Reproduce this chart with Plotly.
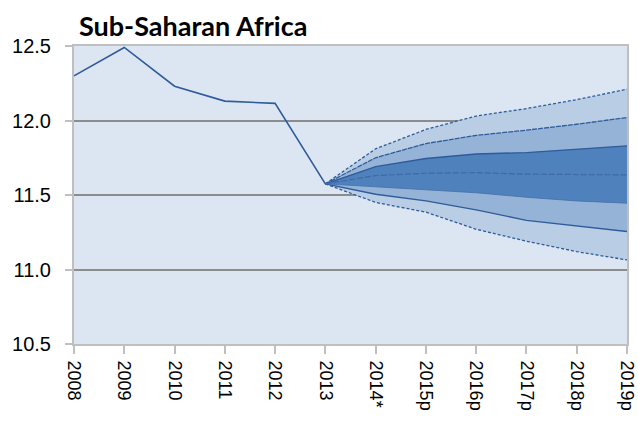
import plotly.graph_objects as go

categories = ["2008", "2009", "2010", "2011", "2012", "2013", "2014*", "2015p", "2016p", "2017p", "2018p", "2019p"]
hist_values = [12.30, 12.49, 12.23, 12.13, 12.115, 11.575]

# fan chart bands, from 2013 onward
fan_x_labels = ["2013", "2014*", "2015p", "2016p", "2017p", "2018p", "2019p"]
outer_upper = [11.575, 11.81, 11.94, 12.03, 12.08, 12.14, 12.21]
mid_upper = [11.575, 11.75, 11.845, 11.90, 11.935, 11.975, 12.02]
inner_upper = [11.575, 11.69, 11.745, 11.775, 11.785, 11.81, 11.83]
median = [11.575, 11.63, 11.646, 11.65, 11.64, 11.635, 11.635]
inner_lower = [11.575, 11.555, 11.54, 11.515, 11.485, 11.46, 11.445]
mid_lower = [11.575, 11.505, 11.46, 11.40, 11.33, 11.29, 11.255]
outer_lower = [11.575, 11.45, 11.385, 11.27, 11.19, 11.12, 11.064]

xi = {c: i for i, c in enumerate(categories)}
hist_x = [xi[c] for c in categories[:len(hist_values)]]
fan_x = [xi[c] for c in fan_x_labels]

LINE = "#2F5B9A"
LIGHT = "#B9CDE5"
MED = "#95B3D7"
DARK = "#4F81BD"
BG = "#DCE6F2"

fig = go.Figure()

def band(lower, upper, fill, lower_dash, upper_dash, lw_lower, lw_upper, lower_color, upper_color):
    fig.add_trace(go.Scatter(x=fan_x, y=lower, mode="lines",
                             line=dict(color=lower_color, width=lw_lower, dash=lower_dash),
                             showlegend=False, hoverinfo="skip"))
    fig.add_trace(go.Scatter(x=fan_x, y=upper, mode="lines", fill="tonexty", fillcolor=fill,
                             line=dict(color=upper_color, width=lw_upper, dash=upper_dash),
                             showlegend=False, hoverinfo="skip"))

band(outer_lower, outer_upper, LIGHT, "3px,2px", "3px,2px", 1.3, 1.3, LINE, LINE)
band(mid_lower, mid_upper, MED, "solid", "5px,1px", 1.3, 1.3, LINE, LINE)
band(inner_lower, inner_upper, DARK, "solid", "solid", 0.8, 1.3, "#456FA8", LINE)

fig.add_trace(go.Scatter(x=fan_x, y=median, mode="lines",
                         line=dict(color="#3E6AA6", width=1.2, dash="6px,2px"),
                         showlegend=False, hoverinfo="skip"))

fig.add_trace(go.Scatter(x=hist_x, y=hist_values, mode="lines",
                         line=dict(color=LINE, width=1.6),
                         showlegend=False, hoverinfo="skip"))

tick_font = dict(family="Liberation Sans, Arial", color="#000000")

fig.update_layout(
    width=638, height=423,
    margin=dict(l=74, r=11, t=46, b=79, autoexpand=False),
    paper_bgcolor="white",
    plot_bgcolor=BG,
    xaxis=dict(
        range=[0, 11],
        tickmode="array",
        tickvals=list(range(len(categories))),
        ticktext=categories,
        tickangle=90,
        tickfont=dict(size=18, **tick_font),
        showgrid=False,
        zeroline=False, automargin=False,
        showline=True, linecolor="#BFBFBF", linewidth=2, mirror=True,
        ticks="outside", ticklen=8, tickcolor="#BFBFBF", tickwidth=2,
        ticklabelstandoff=3,
    ),
    yaxis=dict(
        range=[10.5, 12.5],
        tickvals=[10.5, 11.0, 11.5, 12.0, 12.5],
        ticktext=["10.5", "11.0", "11.5", "12.0", "12.5"],
        tickfont=dict(size=20, **tick_font),
        showgrid=True, gridcolor="#8C8C8C", gridwidth=2,
        zeroline=False, automargin=False,
        showline=True, linecolor="#BFBFBF", linewidth=2, mirror=True,
        ticks="outside", ticklen=7, tickcolor="#BFBFBF", tickwidth=2,
        ticklabelstandoff=10,
    ),
    annotations=[dict(
        text="<b>Sub-Saharan Africa</b>", xref="paper", yref="paper",
        x=0.005, y=1.0 + 21 / 298, xanchor="left", yanchor="middle",
        showarrow=False, font=dict(family="Lato, Open Sans, sans-serif", size=27, color="#000000"),
    )],
)

fig.write_html("out.html", config={"displayModeBar": False},
               post_script="document.body.style.margin='0';document.body.style.overflow='hidden';")
